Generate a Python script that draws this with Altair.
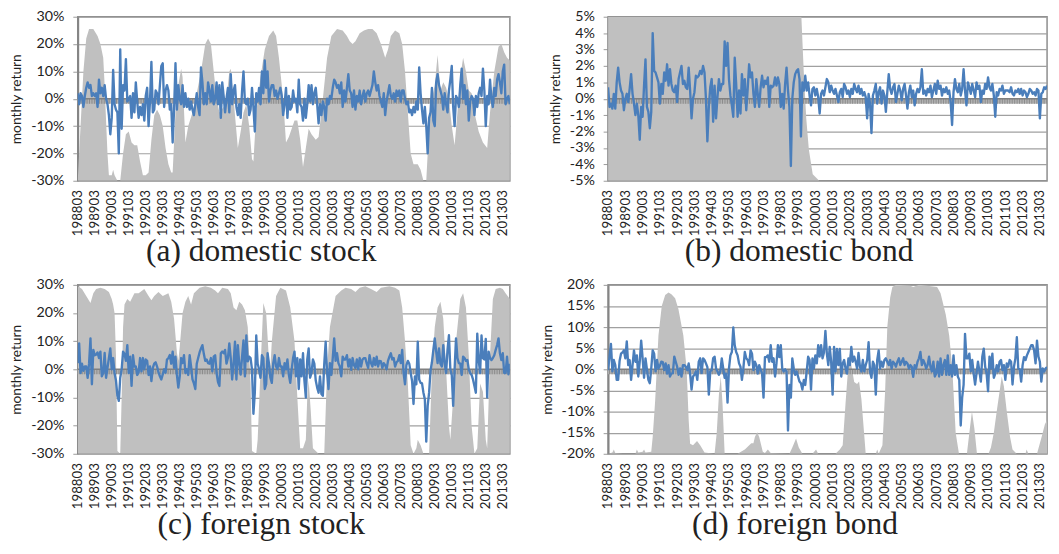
import json
import altair as alt
import pandas as pd

# ---------------- tick labels (x axis: category every 12 months) ----------------
TICK_POS = [0, 12, 24, 36, 48, 60, 72, 84, 96, 108, 120, 132, 144, 156, 168, 180,
            192, 204, 216, 228, 240, 252, 264, 276, 288, 300]
TICK_LABELS = ["198803", "198903", "199003", "199103", "199203", "199303", "199403",
               "199503", "199603", "199703", "199803", "199903", "200003", "200103",
               "200203", "200303", "200403", "200503", "200603", "200703", "200803",
               "200903", "201003", "201103", "201203", "201303"]
LAST_MONTH = 305

# ---------------- (a) domestic stock ----------------
A_RET = [2, -2, 2, 1, -3, 1, 4, 6, 4, 5, 1, 2,
         1, 2, -3, 7, 2, 4, 1, 5, 0, -2, -6, -13,
         -7, 10.5, -2, -4, -5, -20, 18, -11, 5, 3, 14.5, -1,
         0, 1, -7, 2, -5, 6, -1, -7, -3, -6, -2, -8,
         1, 4, -10, -1, 13.5, -5, -4, 3, 2, -2, 5, 12,
         13, -3, 3, 5, 3, -4, -2, -16, -4, 13, -4, 5,
         0, -2, 5, -3, 2, -3, 0, -4, -1, -4, -6, -2,
         2, -3, -6, 11.5, 6, -2, 2, -2, 6, 3, -1, 5,
         -2, 0, 6, -2, 5, -7, 6, 1, -5, 0, 4, -5,
         9, -2, 3, 5, -3, -6, -2, -7, 3, 10, -1, -2,
         0, -6, -4, 4, -3, -12, 2, -1, 4, -2, 10, 2,
         14, 4, 10, -1, 3, 5, 5, 1, 3, 0, 2, 4,
         1, -6, -2, 4, -7, 1, -4, -3, 3, -1, 0, -5,
         7, -2, -3, -8, 0, -7, -2, 5, -1, 5, -2, 2,
         4, -2, -9, -2, -6, -1, -3, -8, 0, -2, 1, 0,
         4, 7, 6, 4, 5, 2, 6, -3, 3, -1, 4, 9,
         3, 2, -3, 3, -4, 1, -1, 3, -2, 1, 3, -1,
         2, 3, 1, 3, 5, 10, 6, 3, 5, 1, -1, -3,
         2, -6, -1, 2, 5, 1, 0, 2, -1, 3, 1, 3,
         -1, 3, 3, 0, -2, -1, -5, -4, -6, -3, -5, -1,
         -4, 11.5, 2, -4, -9, -3, -10, -20, -7, -5, 4, -8,
         -10, 6, 9, 5, 3, 1, -4, 2, -2, -5, 3, 7,
         12, -3, -10, 1, 0, -3, 5, 11, 0, 5, -2, 3,
         -8, -1, 1, 0, -6, 1, -3, 2, 4, 1, 11, 3,
         -10, 1, -2, 7, 0, -3, 4, 1, 7, 9, 6, 2,
         10, 12.5, -2, 0, 1, -2]
A_AREA_M = [0, 2, 4, 6, 8, 11, 14, 16, 18, 19, 20, 21, 22, 24, 25, 26, 28, 30, 32, 34,
            36, 38, 40, 42, 44, 46, 48, 50, 52, 54, 56, 58, 60, 62, 64, 66, 67, 69, 71,
            73, 74, 76, 78, 81, 84, 87, 90, 92, 94, 96, 98, 100, 103, 105, 107, 108,
            110, 112, 113, 115, 117, 119, 121, 123, 124, 126, 129, 132, 135, 138, 140,
            142, 145, 147, 149, 151, 153, 155, 157, 159, 161, 163, 165, 168, 170, 173,
            176, 179, 183, 187, 190, 192, 194, 196, 199, 202, 205, 208, 211, 214, 217,
            219, 221, 224, 227, 229, 231, 233, 235, 237, 240, 242, 244, 246, 248, 250,
            252, 254, 256, 258, 260, 262, 264, 266, 268, 270, 272, 274, 276, 278, 280,
            283, 286, 289, 291, 294, 297, 299, 301, 303, 305]
A_AREA_V = [-30, -10, 10, 22, 25.5, 25.5, 23, 20, 15, 5, -8, -20, -28, -28, -26, -28, -30, -30, -20, -13,
            -12, -16, -17, -17, -23, -28, -28, -27, -15, -6, -4, -6, -10, -18, -24, -27, -27, -5, 5,
            11, 8, -16, -10, -5, 2, 10, 20, 22, 20, 10, 0, -5, -3, 0, 10, 11,
            0, -12, -18, -12, -5, -2, -10, -22, -23, -5, 8, 18, 23, 25, 23,
            15, 0, -16, -14, -11, -8, -8, -15, -25, -18, -11, -13, -15, -14, 0,
            15, 23, 25.5, 25, 23, 21, 20, 21, 24, 25, 25.5, 25.5, 24, 20, 15,
            18, 23, 25, 24, 20, 10, -5, -20, -24, -24, -26, -30, -30, -10, 0,
            5, 16, 3, 6, 4, 0, -10, -17, -5, 8, 15, 10, 3, 2, -5,
            -12, -16, -18, -5, 10, 19, 20, 17, 15, 14]

# ---------------- (b) domestic bond ----------------
B_RET = [0.7, -0.5, -0.3, -0.6, 0.3, -0.6, 1.0, 1.9, 1.0, 0.5, 0.3, -0.7,
         0, 0.3, -0.2, 0.6, 1.5, 0.3, -0.3, -1.0, -0.3, -1.0, -2.5, -0.5,
         -1.1, 0.8, 2.4, -0.5, -0.8, -1.8, -0.8, 4.0, 1.7, 1.6, 1.3, 1.0,
         -0.3, 0.9, 0.3, 1.6, 1.1, 2.1, 0.8, 1.8, 0.9, 0.5, 0.4, 0.8,
         -0.2, 1.2, 1.6, 2.0, 0.9, 1.1, 0.7, 0.6, 1.9, 0.5, -1.2, 0,
         0.4, 1.4, 1.3, 1.4, 1.7, 1.5, 2.0, 1.6, 0, -2.6, -0.5, 0.7,
         1.2, -1.4, 0.8, -1.2, 0.1, 1.2, 0.5, 0.9, 0.9, 3.5, 2.0, 3.4,
         1.2, 0.2, -0.4, -1.1, 2.5, 0.9, -1.1, 0.5, -0.9, 1.5, 0.2, 1.2,
         -0.7, 0.6, 2.1, 1.3, 1.6, 0.3, -0.5, 1.2, 0.3, -0.5, 0.7, 1.4,
         0.7, 1.1, 0.9, 1.3, -0.5, 0.8, 0.7, 0.8, 1.3, 0.8, 1.3, 0.9,
         -0.5, 0.3, -0.6, 0.9, 1.9, 0.5, -0.5, -4.1, 0, 1.0, 1.5, 1.7,
         1.8, 1.2, -2.3, 1.0, 0.5, 1.4, 0.5, 1.0, 0.2, -0.4, 0.6, 0.7,
         0.2, 0.6, 0.1, -0.9, 0.3, 0.5, 0.2, 0.7, 1.2, 1.0, 0.4, 0.8,
         0.5, 0.3, 0.6, 0.2, -0.2, 0.4, 0.6, 0.1, 0.9, 0.7, 0.3, 0.5,
         0.1, 0.6, 0.3, 0.9, 0.6, 0.4, 0.8, 0.3, 0.6, 0.2, 0.4, 0.1,
         -1.2, 0.3, -0.3, -2.1, 0.2, 0.5, 0.9, -0.3, 0.4, 0.7, -0.3, 0.5,
         0.2, -0.8, 0.4, 1.5, 0.6, 0.3, 0.7, 0.9, -0.2, 0.3, 0.8, 0.5,
         -0.1, 0.6, 0.9, 0.2, -0.6, 0.4, 0.8, 0.1, 0.5, -0.4, 0.3, 0.6,
         0.4, 0.7, 1.8, 0.3, 0.5, 0.2, 0.6, 0.4, 0.8, 0.1, 0.5, 0.9,
         0.3, 1.1, 0.6, 0.8, 0.2, 0.6, 0.4, 0.7, 0.3, 0.5, -0.2, -1.6,
         0.4, 1.2, 0.6, 0.4, 0.9, 0.2, 0.6, 1.8, 0.5, -0.4, 1.0, 0.7,
         0.3, 0.9, 0.5, 0.1, 1.0, 0.6, 0.8, -0.2, 0.5, 0.3, 0.9, 0.6,
         1.3, 0.7, 0.5, 0.9, 0.2, -1.1, 0.4, 0.2, 0.6, 0.5, 0.8, 0.3,
         0.5, 0.5, 0.5, 0.4, 0.7, 0.3, 0.2, 0.5, 0.4, 0.6, 0.3, 0.6,
         0.2, 0.5, 0.4, 0.1, 0.3, 0.6, 0.5, 0.3, 0.4, 0.2, 0.6, 0.5,
         -1.2, 0.3, 0.4, 0.7, 0.6, 0.8]
B_AREA_M = [0, 134.3, 135.9, 137.7, 139.5, 142.2, 146.7, 305]
B_AREA_V = [5, 5, 1.75, -1.2, -3.1, -4.6, -5, -5]

# ---------------- (c) foreign stock ----------------
C_RET = [2.2, 9.2, -1.3, 2, -0.5, 1, 1, -3, 2, 11, -5.3, 6.9,
         5, 5.2, 6, 4, 6.3, -2.5, -1.3, 5.8, -3, 0.5, 4, 7.4,
         0, 4, -1.3, -4, -9.4, -11.2, -3, 0, 6.3, 5.5, 3, 8.6,
         -1.3, 4.5, -5.9, 5, 1, 1, -2, -1, 4, -0.7, 4, 0,
         3.5, 3, -2, 1, -4.2, 0.5, 2, 2.5, 1, -1, -2.5, -3.6,
         -1.8, 0, -1.2, 3.5, 4, 5.1, 2, 6.3, 0.5, 4.5, -2, -6.5,
         -2.5, 4, 2.2, 5, -1.3, 0, -2, 5, 1, -3.6, -5, -7,
         2, 4, 6, 7.4, 8.6, 5.5, 3, 3.5, 2.2, 2, 4, -0.7,
         4.5, 5, -1.3, -4.5, -5.9, 5.7, 6.3, 5.7, 6.9, 2, 4, 9.2,
         4, -3.6, 2.2, 9.8, -3.6, 8.6, 2, -1.9, 4.5, 10.3, -2.5, 12,
         2.8, 4.5, 4, 0, -15.8, -8.3, 12, 2, 0, -3, 5, 4,
         -7, -5.3, 5.7, 2, -3, -4.8, 2.2, 5, 1, 0, 4, 1,
         1, -2.5, 2.2, 0, 3.5, -1.9, -4.8, 0, 4, 6.3, -2.5, 4,
         -7, 3.5, -2.5, 5.7, -4, -10, 3.5, 7.4, -3, -1.3, 3.5, 2,
         -4, -6.5, -8.3, -2.5, -8.8, -9.4, 2, 9.8, -1.3, -7, 2.2, -2,
         4, 11, 3, 5.7, 2.2, 1, -2.5, 4.5, 3.5, 3.5, 5, 1,
         3.5, -0.2, 4, 1.5, 0.5, 3.5, 0, 4, 1, 3.5, 4, 4,
         2, 0.5, 5, 2.2, 1, 4, 1.5, 4.5, 1, 3, 2.8, 0.5,
         2.2, 1.5, 0, 3, 4.5, 5.7, 3.5, 4, 1, 2.5, 3, 5,
         2.2, 6.9, -1.3, -5.3, 1.5, 3, 2, -1.3, -4.2, -12.3, -2.5, -5.3,
         9.8, -3.6, -4.8, -5, -8.3, -10.6, -25.7, -13, -8.3, -0.5, 2.5, 6.9,
         11, 6.3, 2.2, 7.4, 2, 1, 8.6, 2.2, -1.3, 6.9, 12.1, 0,
         -2, -13, 0, 11, 4, 2.2, 2, -2, 4.5, 4, 3, 3.3,
         0, -1.3, -2, -3.6, -5.9, -8.3, 12.7, 3.3, -1.3, 12, 4, 3.5,
         10.8, -10, 6.3, 4, 3.3, 4, 5, 6.9, 8.6, 11, 5.7, 3.3,
         5.7, -1.3, -1.3, 4.5, -1.8, 2]
C_AREA_M = [0, 3, 6, 9, 11, 13, 16, 19, 22, 24, 25, 26, 27, 28, 30, 31, 32, 33, 35, 37,
            40, 43, 47, 50, 52, 54, 57, 60, 64, 66, 68, 70, 71, 72, 74, 76, 78, 80, 82,
            86, 90, 94, 97, 99, 102, 106, 108, 110, 112, 114, 116, 118, 120, 122, 123,
            126, 127, 129, 131, 133, 135, 136, 137, 140, 143, 147, 150, 153, 155, 157,
            159, 161, 162, 163, 164.5, 166, 168, 170, 174, 176, 178, 182, 186, 189, 193,
            196, 199, 203, 207, 211, 214, 220, 224, 227, 229, 231, 233, 235, 237, 239,
            240, 242, 244, 248, 250, 252, 254, 256, 258, 260, 262, 263, 265, 267, 270,
            272, 274, 276, 278, 280, 282, 284, 286, 288, 289, 291, 293, 295, 298, 300,
            302, 305]
C_AREA_V = [29.6, 28.5, 26, 23.6, 27, 28.5, 29, 28.5, 27.5, 25, 23, 20, 5, -29, -30, -10, 15, 23, 25, 24,
            27, 27, 28.5, 26, 24.5, 26, 27.5, 26, 27, 24, 18, 6, 3, 8, 20, 24, 26, 23, 27,
            29, 29.5, 29, 28, 27, 29, 28.5, 27, 22, 21, 24, 23, 21, 15, -5, -29,
            -30, -25, 0, 23.6, 20, 3, 1, 10, 26, 29, 28, 22, 10, -10, -28,
            -28, -25, -10, -4, -15, -28, -29, -30, -30, 0, 15, 26, 28, 29, 28.5,
            27.5, 29, 29.5, 28.5, 27.5, 29, 29.5, 29, 28, 22, 10, -5, -27, -30, -28,
            -25, -27, -30, -30, 0, 15, 22, 24, 18, 0, -20, -25, -10, 10, 25,
            27, 22, 5, -20, -30, -28, -5, -8, -25, -28, 5, 25, 28.5, 29, 28.5,
            27, 25]

# ---------------- (d) foreign bond ----------------
D_RET = [-0.2, 3, 6, -0.5, 2.2, 1, -2.5, -2.5, 2, 3.7, 4, 4.5,
         2.6, 6.6, 1, 2.2, -2.5, 1, 4.5, 1.8, 3.3, -1.7, 1.8, 6.8,
         2.6, -2, 2.6, 0, -2.5, -3.3, 0.2, 4.5, 3.7, -0.5, 2.2, 0.2,
         0.8, 1.8, 1.7, -0.2, 1.4, -1, 1, -1.7, -1, -0.9, 3, 1.8,
         0.6, -1.3, 0.2, -1.7, 1, 1, 0.6, -0.2, 1.4, -1, -4.8, -1.7,
         -1.3, -0.5, -2.5, 1.8, 2.6, -0.9, 2.6, 2.2, 1.4, 0.5, -6, -0.5,
         -0.2, 2.6, 3, 0.2, -0.5, -1.3, -0.5, 2.6, 0.2, -2, -1, -7.9,
         0.2, 3.3, 4.1, 9.9, 5.7, 4.1, 3.3, 1.4, 0.6, -2.5, 0.2, 4.1,
         2.6, 2.2, 1, 4.5, 3.7, -0.2, 1.8, 1, -1, 1, 0, -1,
         -6.7, 2.9, 2.9, 3.3, 1.8, 5.7, 1.8, 2.6, -1.7, 1.4, 5.7, 2.9,
         5.7, 0.2, -0.5, 0, -0.5, -14.5, -3.7, -6.7, 2.6, 0.2, -1.3, -0.5,
         -1.7, -2.9, -3.3, -4.8, -2.5, -3.7, -0.5, 3, 2.2, -4.8, 2.6, 0.2,
         3.3, 1.4, 5.7, 3, 5.7, 2.6, 4, 9.1, 3.7, 1, 5.3, 1.8,
         -6, 5.3, -0.5, 4.8, 1, 4.8, -1.7, 1.4, 2.2, 0.2, -1, 2.6,
         1, 5.3, 1.8, 3, 1.8, 0.2, 3.9, 0.6, -0.5, 2.2, -0.5, 1,
         2.2, 6.4, -0.5, -2, 1.8, 1, -6, 2.2, 4.5, 0.2, 1.8, 0.6,
         2.2, 2.6, 1.8, 1, 2.2, 0.2, 1.8, 1.4, 0.6, 1.8, 2.6, 1,
         1.8, 2.6, 1, 1.8, 1.4, 0.2, 1, 0.6, -1.8, 1, 0.2, 1.8,
         2.6, 4.1, 1, 2.2, 1.4, 0.2, 1, 3, 0.6, -0.5, 1.8, -1.7,
         -1, 1.8, -1.7, 2.6, -1.3, 1, 2.2, -1.3, 3.3, -1.3, 1, -1.7,
         3.3, -1.3, 1, -1.7, -2.5, -13.3, -6.7, -3.7, 8.4, 2.6, 2.6, 3.7,
         -0.5, 2.2, -1, -3.6, -0.9, 1.8, -0.5, -2.9, 3, 4.9, 0.6, -1,
         -5.2, 3, 0.2, 3.7, -2, -1, 1, -0.5, 1.8, 2.2, -0.2, 1,
         -2.5, 1.4, 0.6, 2.2, 1.8, -3.6, 0.6, 2.6, 7.6, 0.2, 0, -2.9,
         1, 2.9, 2.2, 3.3, 4.1, 4.9, 5.7, 5.7, 4.5, 1.4, 6.8, 3,
         1.8, -2.9, 0.2, -0.5, 0.2, 0.5]
D_AREA_M = [0, 3, 4, 5, 10, 19, 20, 21, 24, 25, 26, 30, 31, 32.7, 35, 37.3, 39.7, 42, 44,
            46.6, 48.9, 52.3, 54.6, 56, 57, 59, 61.8, 64, 67, 74, 75.5, 77, 78.3, 79.5,
            81, 90, 95, 99.5, 101, 102, 103.6, 105, 107.5, 109, 111, 113, 126, 128,
            130.6, 132.5, 135, 142, 144.5, 146, 158, 161, 163, 165, 167.5, 169, 171,
            173, 174.4, 176, 179, 186, 187, 188, 190.6, 192.5, 194, 196, 197.5, 200,
            210, 212, 216, 228.6, 231, 234.6, 237, 239.2, 241.5, 243.8, 249.3, 251,
            252.8, 254.5, 256.3, 264.3, 266, 268, 270, 273.5, 275, 277, 279.3, 281,
            283.9, 290, 290.8, 292, 298, 301.2, 303.5, 305]
D_AREA_V = [-20, -19.7, -19, -19.8, -20, -20, -19, -19.7, -19.5, -19, -19.7, -19.5, -16, -7.5, 8, 15, 17.6, 18.2, 17.8,
            16.8, 14.2, 8, 0, -12, -17.6, -18, -17, -18, -19.7, -20, -15, -6, -1.7, -8,
            -20, -20, -19, -17.5, -17.5, -16, -14.9, -16, -19.5, -19.8, -19, -19.8, -20, -18.5,
            -16.4, -18.5, -20, -20, -19, -20, -20, -19, -18, -8, 3.7, 1, -3,
            -3.5, -2.9, -7, -20, -20, -19, -20, -18, -5, 10, 17, 19.5, 20,
            19.8, 19.5, 20, 19.5, 18, 13, 8, 0, -15, -20, -20, -15,
            -10, -14, -20, -20, -18.5, -15, -10, -1.7, -4, -10, -16, -19,
            -20, -20, -19, -20, -20, -16, -13, -12]

# ---------------- styling constants ----------------
BLUE = "#4A7EBB"
AREA_GRAY = "#C0C0C0"
TEXT = "#222222"
LABEL_EXPR = json.dumps(TICK_LABELS) + "[round(datum.value / 12)]"


def panel(ret, area_m, area_v, lo, hi, yvals, title, w, h):
    line_df = pd.DataFrame({"m": list(range(len(ret))), "r": ret})
    area_df = pd.DataFrame({"m": area_m, "v": area_v})
    area_df["base"] = lo
    zero_df = pd.DataFrame({"z": [0]})

    xs = alt.Scale(domain=[0, LAST_MONTH], nice=False, zero=False)
    ys = alt.Scale(domain=[lo, hi], nice=False, zero=False)
    xaxis = alt.Axis(values=TICK_POS, tickCount=100, labelExpr=LABEL_EXPR, labelAngle=270,
                     labelFont="Lato", labelFontSize=13.5, labelColor=TEXT,
                     labelPadding=9, ticks=False, grid=False, domain=False,
                     labelOverlap=False, title=None)
    yaxis = alt.Axis(values=yvals, tickCount=100, labelExpr="datum.value + '%'",
                     labelOverlap=False,
                     title="monthly return", titleFont="Lato", titleFontSize=14,
                     titleFontWeight="normal", titleColor=TEXT, titlePadding=7,
                     labelFont="Lato", labelFontSize=14.5, labelColor=TEXT,
                     labelPadding=9, tickSize=5, tickColor="#9a9a9a",
                     grid=True, gridColor="#a0a0a0", gridWidth=1.2,
                     domainColor="#858585", domainWidth=2)

    area = alt.Chart(area_df).mark_area(color=AREA_GRAY, opacity=1, clip=True).encode(
        x=alt.X("m:Q", scale=xs, axis=xaxis),
        y=alt.Y("v:Q", scale=ys, axis=yaxis),
        y2="base:Q",
    )
    band = alt.Chart(zero_df).mark_rule(color="#b2b2b2", strokeWidth=5, yOffset=2.5).encode(
        y="z:Q")
    hatch = alt.Chart(zero_df).mark_rule(color="#8c8c8c", strokeWidth=5, yOffset=2.5,
                                         strokeDash=[1, 1.5]).encode(y="z:Q")
    top = alt.Chart(zero_df).mark_rule(color="#808080", strokeWidth=1.5).encode(y="z:Q")
    line = alt.Chart(line_df).mark_line(color=BLUE, strokeWidth=2.4, strokeJoin="round",
                                        clip=True).encode(x="m:Q", y="r:Q")
    return alt.layer(area, band, hatch, top, line).properties(
        width=w, height=h,
        title=alt.TitleParams(text=title, orient="bottom", anchor="middle", frame="bounds",
                              font="Liberation Serif", fontSize=32, fontWeight="normal",
                              color=TEXT, offset=1),
    )


pa = panel(A_RET, A_AREA_M, A_AREA_V, -30, 30, [-30, -20, -10, 0, 10, 20, 30],
           "(a) domestic stock", 440, 167)
pb = panel(B_RET, B_AREA_M, B_AREA_V, -5, 5, [-5, -4, -3, -2, -1, 0, 1, 2, 3, 4, 5],
           "(b) domestic bond", 447, 167)
pc = panel(C_RET, C_AREA_M, C_AREA_V, -30, 30, [-30, -20, -10, 0, 10, 20, 30],
           "(c) foreign stock", 440, 172)
pd_ = panel(D_RET, D_AREA_M, D_AREA_V, -20, 20, [-20, -15, -10, -5, 0, 5, 10, 15, 20],
            "(d) foreign bond", 447, 172)

chart = alt.concat(pa, pb, pc, pd_, columns=2, bounds="flush",
                   spacing={"row": 106, "column": 100}).properties(
    padding={"left": 1, "top": -5, "right": 0, "bottom": 0},
    background="white",
).configure_view(stroke="#8c8c8c", strokeWidth=1.5)

chart.save("out.html", embed_options={"renderer": "svg", "actions": False})
